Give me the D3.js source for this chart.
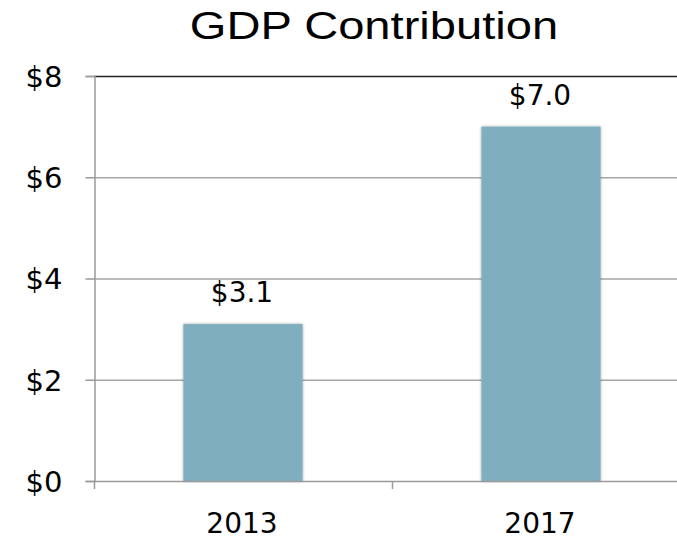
<!DOCTYPE html>
<html>
<head>
<meta charset="utf-8">
<script src="https://cdn.jsdelivr.net/npm/d3@7"></script>
<style>
  html, body { margin: 0; padding: 0; background: #fff; }
  svg { display: block; }
</style>
</head>
<body>
<svg id="chart" width="677" height="541"></svg>
<script>
// Chart data
const categories = ["2013", "2017"];
const values = [3.1, 7.0];
const valueLabels = ["$3.1", "$7.0"];
const yTicks = [0, 2, 4, 6, 8];
const yTickLabels = ["$0", "$2", "$4", "$6", "$8"];

const svg = d3.select("#chart");
const margin = { left: 94, top: 76 };
const bandStep = 298;
const plotBottom = 481;
const labelFont = "'DejaVu Sans', 'Lato', sans-serif";

const x = d3.scaleBand()
  .domain(categories)
  .range([margin.left, margin.left + bandStep * categories.length])
  .paddingInner(0.6)
  .paddingOuter(0.3);

const y = d3.scaleLinear().domain([0, 8]).range([plotBottom, margin.top]);

// soft shadow around the bars
const defs = svg.append("defs");
const f = defs.append("filter").attr("id", "barShadow")
  .attr("x", "-10%").attr("y", "-10%").attr("width", "120%").attr("height", "120%");
f.append("feDropShadow").attr("dx", 0).attr("dy", 0).attr("stdDeviation", 1.5)
  .attr("flood-color", "#000").attr("flood-opacity", 0.35);

// Title (wide sans, stretched horizontally around its centre)
svg.append("text")
  .attr("transform", "translate(374,39) scale(1.24,1)")
  .attr("text-anchor", "middle")
  .style("font-family", "'Liberation Sans', Arial, sans-serif")
  .style("font-size", "38px")
  .attr("fill", "#000")
  .text("GDP Contribution");

// Horizontal gridlines
const xRight = margin.left + bandStep * categories.length;
svg.append("g").selectAll("line")
  .data(yTicks.filter(d => d > 0))
  .join("line")
  .attr("x1", margin.left).attr("x2", xRight)
  .attr("y1", d => y(d) + 0.5).attr("y2", d => y(d) + 0.5)
  .attr("stroke", d => d === 8 ? "#222" : "#a6a6a6")
  .attr("stroke-width", 1.5);

// Y axis
const yAxis = d3.axisLeft(y)
  .tickValues(yTicks)
  .tickFormat((d, i) => yTickLabels[i])
  .tickSize(9)
  .tickPadding(23);
const gy = svg.append("g")
  .attr("transform", `translate(${margin.left + 0.5},0)`)
  .call(yAxis);
gy.select(".domain").attr("stroke", "#9a9a9a").attr("stroke-width", 1.5);
gy.selectAll(".tick line").attr("stroke", "#9a9a9a").attr("stroke-width", 1.5);
gy.selectAll(".tick text")
  .attr("text-anchor", "end")
  .attr("dy", "0.36em")
  .style("font-family", labelFont)
  .style("font-size", "29px")
  .attr("fill", "#000");

// Bars
svg.append("g").selectAll("rect")
  .data(values)
  .join("rect")
  .attr("x", (d, i) => x(categories[i]))
  .attr("width", x.bandwidth())
  .attr("y", d => y(d))
  .attr("height", d => y(0) - y(d))
  .attr("fill", "#7fafbe")
  .attr("filter", "url(#barShadow)");

// X axis (baseline with ticks at band boundaries)
svg.append("line")
  .attr("x1", margin.left).attr("x2", xRight)
  .attr("y1", plotBottom + 0.5).attr("y2", plotBottom + 0.5)
  .attr("stroke", "#9a9a9a").attr("stroke-width", 1.5);
svg.append("g").selectAll("line")
  .data(d3.range(categories.length + 1))
  .join("line")
  .attr("x1", i => margin.left + 0.5 + i * x.step())
  .attr("x2", i => margin.left + 0.5 + i * x.step())
  .attr("y1", plotBottom)
  .attr("y2", plotBottom + 8)
  .attr("stroke", "#9a9a9a").attr("stroke-width", 1.5);

// Category labels
svg.append("g").selectAll("text")
  .data(categories)
  .join("text")
  .attr("x", d => x(d) + x.bandwidth() / 2 - 1)
  .attr("y", 533)
  .attr("text-anchor", "middle")
  .style("font-family", labelFont)
  .style("font-size", "28px")
  .attr("fill", "#000")
  .text(d => d);

// Value labels
svg.append("g").selectAll("text")
  .data(values)
  .join("text")
  .attr("x", (d, i) => x(categories[i]) + x.bandwidth() / 2 - 1)
  .attr("y", d => y(d) - 22)
  .attr("text-anchor", "middle")
  .style("font-family", labelFont)
  .style("font-size", "28px")
  .attr("fill", "#000")
  .text((d, i) => valueLabels[i]);
</script>
</body>
</html>
